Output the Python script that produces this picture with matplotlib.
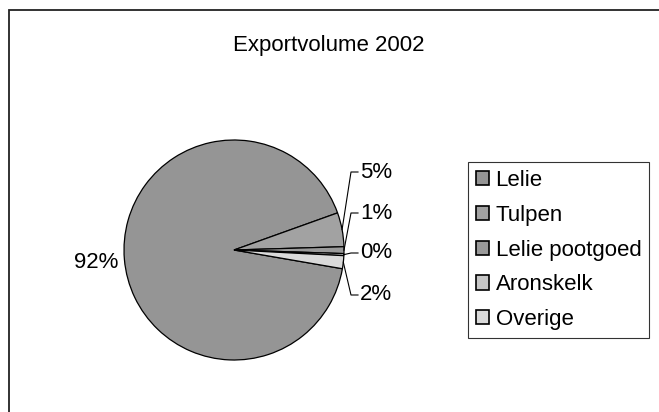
import matplotlib.pyplot as plt
from matplotlib.patches import Rectangle
import numpy as np

plt.rcParams['font.family'] = ['Liberation Sans', 'DejaVu Sans']

# data
categories = ['Lelie', 'Tulpen', 'Lelie pootgoed', 'Aronskelk', 'Overige']
shares = [91.8, 5.0, 1.0, 0.3, 1.9]
colors = ['#959595', '#a2a2a2', '#9a9a9a', '#c6c6c6', '#dadada']

W, H = 659, 412
FS = 16
fig = plt.figure(figsize=(W / 100, H / 100), dpi=100)

# chart area border (only top/left visible in the original crop)
fig.patches.append(Rectangle((9 / W, -0.1), 1.2, (H - 10) / H + 0.1,
                             transform=fig.transFigure, fill=False,
                             edgecolor='#222222', linewidth=1.3))

# pie axes, centre (234, 250) px, radius 110 px
cx, cy, r = 234, 250, 110
ax = fig.add_axes([(cx - r) / W, (H - cy - r) / H, 2 * r / W, 2 * r / H])
wedges, _ = ax.pie(shares, colors=colors, startangle=-9.8, counterclock=False,
                   radius=1, wedgeprops=dict(edgecolor='black', linewidth=0.9))
ax.set_xlim(-1, 1)
ax.set_ylim(-1, 1)
ax.axis('off')

fig.text(329 / W, 1 - 45 / H, 'Exportvolume 2002', ha='center', va='center', fontsize=FS)

pct = [f'{round(s):.0f}%' for s in shares]

# big slice label sits on the left without leader
ax.text(-1.05, -0.11, pct[0], ha='right', va='center', fontsize=FS)

# small slices: label text y (px) and leader elbow points
label_y = [172, 213, 253, 295]
for w, txt, ly in zip(wedges[1:], pct[1:], label_y):
    mid = np.deg2rad((w.theta1 + w.theta2) / 2)
    x0, y0 = np.cos(mid), np.sin(mid)
    yd = (cy - ly) / r
    elbow_x = (351 - cx) / r
    end_x = (358 - cx) / r
    ax.plot([x0, elbow_x, end_x], [y0, yd, yd], color='black', lw=0.8, clip_on=False)
    ax.text((360 - cx) / r, yd, txt, ha='left', va='center', fontsize=FS, clip_on=False)

# legend
leg = fig.legend(wedges, categories, loc='upper left',
                 bbox_to_anchor=(468 / W, 1 - 162 / H), fontsize=FS,
                 frameon=True, fancybox=False, edgecolor='black',
                 handlelength=0.6, handleheight=0.6, handletextpad=0.28,
                 labelspacing=0.62, borderpad=0.36, borderaxespad=0)
leg.get_frame().set_linewidth(0.8)
for h in leg.legend_handles:
    h.set_edgecolor('black')
    h.set_linewidth(1.2)

fig.savefig('out.png', dpi=100)
